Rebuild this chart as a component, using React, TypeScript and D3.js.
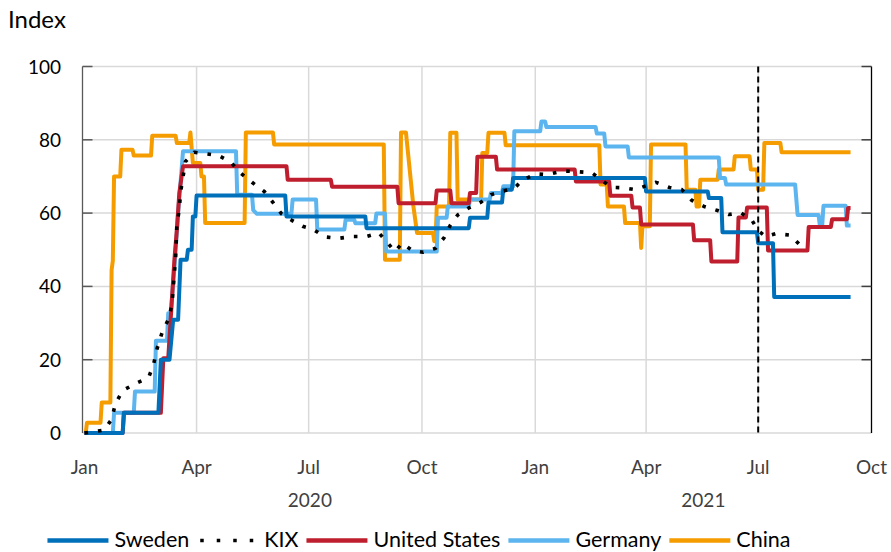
import React, { useMemo } from 'react'
import * as d3 from 'd3'

type Pt = [string, number]

// stringency index at each corner of the steps
const sweden: Pt[] = [
  ['2020-01-01', 0], ['2020-02-01', 0], ['2020-02-02', 5.5], ['2020-03-01', 5.5], ['2020-03-03', 20],
  ['2020-03-10', 20], ['2020-03-13', 30.9], ['2020-03-17', 30.9], ['2020-03-19', 47.3], ['2020-03-24', 47.3],
  ['2020-03-25', 50], ['2020-03-28', 50], ['2020-03-29', 59.1], ['2020-03-31', 59.1], ['2020-04-01', 64.8],
  ['2020-06-12', 64.8], ['2020-06-13', 59.1], ['2020-08-16', 59.1], ['2020-08-17', 55.9], ['2020-11-08', 55.9],
  ['2020-11-09', 58.7], ['2020-11-23', 58.7], ['2020-11-24', 62.9], ['2020-12-05', 62.9], ['2020-12-06', 66.4],
  ['2020-12-13', 66.4], ['2020-12-14', 69.6], ['2021-03-31', 69.6], ['2021-04-01', 65.9], ['2021-05-21', 65.9],
  ['2021-05-22', 64.1], ['2021-06-01', 64.1], ['2021-06-02', 54.8], ['2021-06-30', 54.8], ['2021-07-01', 51.8],
  ['2021-07-13', 51.8], ['2021-07-14', 37.1], ['2021-09-14', 37.1],
]

const kix: Pt[] = [
  ['2020-01-01', 0], ['2020-01-17', 0.8], ['2020-01-23', 3.7], ['2020-01-26', 7.9], ['2020-02-01', 11.6],
  ['2020-02-11', 13.4], ['2020-02-22', 15.1], ['2020-02-26', 18.6], ['2020-02-29', 23.1], ['2020-03-04', 27.4],
  ['2020-03-09', 30.9], ['2020-03-12', 35], ['2020-03-14', 43.8], ['2020-03-15', 48.2], ['2020-03-16', 56.8],
  ['2020-03-18', 61.1], ['2020-03-19', 65.7], ['2020-03-21', 69.9], ['2020-03-23', 74.1], ['2020-03-30', 76.6],
  ['2020-04-08', 76.2], ['2020-04-19', 75.7], ['2020-04-29', 73.9], ['2020-05-06', 71.1], ['2020-05-16', 68.4],
  ['2020-05-26', 65.9], ['2020-06-02', 62.9], ['2020-06-09', 59.8], ['2020-06-17', 58.1], ['2020-06-26', 56.4],
  ['2020-07-05', 55.5], ['2020-07-14', 53.5], ['2020-07-25', 53.1], ['2020-08-05', 53.6], ['2020-08-17', 53.6],
  ['2020-08-27', 54.6], ['2020-09-02', 52.3], ['2020-09-09', 49.5], ['2020-09-15', 51.8], ['2020-09-23', 49.8],
  ['2020-10-02', 49.3], ['2020-10-12', 50.4], ['2020-10-19', 53.3], ['2020-10-24', 56.7], ['2020-10-30', 59.5],
  ['2020-11-08', 61.4], ['2020-11-18', 63], ['2020-11-26', 65], ['2020-12-05', 65.9], ['2020-12-15', 66.8],
  ['2020-12-22', 69.1], ['2021-01-02', 70.7], ['2021-01-11', 70.5], ['2021-01-23', 71.5], ['2021-02-04', 71.3],
  ['2021-02-16', 71], ['2021-02-25', 68.7], ['2021-03-04', 67], ['2021-03-14', 66.9], ['2021-03-23', 66.4],
  ['2021-04-09', 68.4], ['2021-04-20', 67], ['2021-04-30', 66.4], ['2021-05-08', 63.5], ['2021-05-18', 61.8],
  ['2021-05-29', 60.7], ['2021-06-07', 59.6], ['2021-06-17', 60.1], ['2021-06-26', 58], ['2021-07-01', 55.2],
  ['2021-07-07', 53.6], ['2021-07-15', 54.4], ['2021-07-27', 54], ['2021-08-03', 51.6],
]

const unitedStates: Pt[] = [
  ['2020-01-01', 0], ['2020-02-01', 0], ['2020-02-02', 5.5], ['2020-03-03', 5.5], ['2020-03-05', 20.4],
  ['2020-03-09', 20.4], ['2020-03-14', 47.3], ['2020-03-16', 55.5], ['2020-03-18', 65.5], ['2020-03-21', 72.8],
  ['2020-06-13', 72.8], ['2020-06-14', 69.1], ['2020-07-19', 69.1], ['2020-07-20', 67.2], ['2020-09-11', 67.2],
  ['2020-09-12', 62.7], ['2020-10-12', 62.7], ['2020-10-13', 66.2], ['2020-10-24', 66.2], ['2020-10-25', 62.7],
  ['2020-11-08', 62.7], ['2020-11-09', 65.5], ['2020-11-14', 65.5], ['2020-11-15', 75.4], ['2020-11-30', 75.4],
  ['2020-12-01', 71.9], ['2021-02-02', 71.9], ['2021-02-03', 68.6], ['2021-03-02', 68.6], ['2021-03-03', 64.7],
  ['2021-03-20', 64.7], ['2021-03-21', 61.5], ['2021-03-27', 61.5], ['2021-03-28', 56.9], ['2021-05-09', 56.9],
  ['2021-05-10', 52.6], ['2021-05-23', 52.6], ['2021-05-24', 46.8], ['2021-06-14', 46.8], ['2021-06-15', 58.8],
  ['2021-06-21', 58.8], ['2021-06-22', 61.5], ['2021-07-08', 61.5], ['2021-07-09', 49.8], ['2021-08-10', 49.8],
  ['2021-08-11', 56.2], ['2021-08-29', 56.2], ['2021-08-30', 58.3], ['2021-09-11', 58.3], ['2021-09-12', 61.4],
  ['2021-09-14', 61.4],
]

const germany: Pt[] = [
  ['2020-01-01', 0], ['2020-01-24', 0], ['2020-01-25', 5.5], ['2020-02-10', 5.5], ['2020-02-11', 11.3],
  ['2020-02-27', 11.3], ['2020-02-28', 25.2], ['2020-03-08', 25.2], ['2020-03-09', 32.7], ['2020-03-11', 32.7],
  ['2020-03-14', 45], ['2020-03-17', 60], ['2020-03-21', 76.9], ['2020-05-03', 76.9], ['2020-05-04', 65],
  ['2020-05-16', 65], ['2020-05-17', 60.8], ['2020-05-20', 59.8], ['2020-06-17', 59.8], ['2020-06-18', 63.7],
  ['2020-07-07', 63.7], ['2020-07-08', 55.5], ['2020-07-30', 55.5], ['2020-07-31', 58.2], ['2020-08-07', 58.2],
  ['2020-08-08', 57.2], ['2020-08-24', 57.2], ['2020-08-25', 59.9], ['2020-09-01', 59.9], ['2020-09-02', 49.5],
  ['2020-10-13', 49.5], ['2020-10-14', 58.7], ['2020-10-21', 58.7], ['2020-10-22', 61.8], ['2020-11-08', 61.8],
  ['2020-11-09', 63.7], ['2020-11-25', 63.7], ['2020-11-26', 65.5], ['2020-12-05', 65.5], ['2020-12-06', 67.3],
  ['2020-12-14', 67.3], ['2020-12-15', 82.3], ['2021-01-05', 82.3], ['2021-01-06', 85], ['2021-01-09', 85],
  ['2021-01-10', 83.5], ['2021-02-19', 83.5], ['2021-02-20', 81.7], ['2021-02-26', 81.7], ['2021-02-27', 78.2],
  ['2021-03-17', 78.2], ['2021-03-18', 75.2], ['2021-05-30', 75.2], ['2021-05-31', 69.6], ['2021-06-04', 69.6],
  ['2021-06-05', 67.8], ['2021-07-31', 67.8], ['2021-08-02', 59.5], ['2021-08-19', 59.5], ['2021-08-20', 56.8],
  ['2021-08-22', 56.8], ['2021-08-23', 62], ['2021-09-10', 62], ['2021-09-11', 56.6], ['2021-09-14', 56.6],
]

const china: Pt[] = [
  ['2020-01-01', 0], ['2020-01-02', 0], ['2020-01-03', 2.8], ['2020-01-14', 2.8], ['2020-01-15', 8.3],
  ['2020-01-22', 8.3], ['2020-01-23', 44.5], ['2020-01-24', 47], ['2020-01-25', 70], ['2020-01-30', 70],
  ['2020-01-31', 77.3], ['2020-02-09', 77.3], ['2020-02-10', 75.7], ['2020-02-24', 75.7], ['2020-02-25', 81.1],
  ['2020-03-15', 81.1], ['2020-03-16', 79.1], ['2020-03-26', 79.1], ['2020-03-27', 82], ['2020-03-29', 73.7],
  ['2020-04-04', 73.7], ['2020-04-05', 70], ['2020-04-07', 70], ['2020-04-08', 57.3], ['2020-05-10', 57.3],
  ['2020-05-11', 82], ['2020-06-02', 82], ['2020-06-03', 78.7], ['2020-08-31', 78.7], ['2020-09-01', 47.3],
  ['2020-09-13', 47.3], ['2020-09-14', 82], ['2020-09-18', 82], ['2020-09-24', 62], ['2020-09-27', 54.6],
  ['2020-10-10', 54.6], ['2020-10-11', 52.3], ['2020-10-12', 52.3], ['2020-10-13', 61.8], ['2020-10-23', 61.8],
  ['2020-10-24', 81.9], ['2020-10-29', 81.9], ['2020-10-30', 63.7], ['2020-11-18', 63.7], ['2020-11-19', 76.4],
  ['2020-11-23', 76.4], ['2020-11-24', 81.9], ['2020-12-07', 81.9], ['2020-12-08', 78.5], ['2021-02-22', 78.5],
  ['2021-02-23', 67.8], ['2021-02-28', 67.8], ['2021-03-01', 61.8], ['2021-03-14', 61.8], ['2021-03-15', 57.3],
  ['2021-03-27', 57.3], ['2021-03-28', 50.5], ['2021-03-29', 56.4], ['2021-04-04', 56.4], ['2021-04-05', 78.7],
  ['2021-05-03', 78.7], ['2021-05-04', 66.4], ['2021-05-11', 66.4], ['2021-05-12', 61.8], ['2021-05-14', 61.8],
  ['2021-05-15', 69.1], ['2021-05-29', 69.1], ['2021-05-30', 71.9], ['2021-06-11', 71.9], ['2021-06-12', 75.5],
  ['2021-06-24', 75.5], ['2021-06-25', 71.9], ['2021-06-30', 71.9], ['2021-07-01', 66.4], ['2021-07-05', 66.4],
  ['2021-07-06', 79.1], ['2021-07-19', 79.1], ['2021-07-20', 76.6], ['2021-09-14', 76.6],
]

const seriesNames = ['Sweden', 'KIX', 'United States', 'Germany', 'China']
const seriesData = [sweden, kix, unitedStates, germany, china]
const seriesColors = ['#0070BA', '#000000', '#BE1E2D', '#5CB5EF', '#F59D00']
// bottom to top
const drawOrder = [4, 3, 2, 0, 1]

const yTicks = [0, 20, 40, 60, 80, 100]
const monthTicks = ['2020-01-01', '2020-04-01', '2020-07-01', '2020-10-01', '2021-01-01', '2021-04-01', '2021-07-01', '2021-10-01']
const monthLabels = ['Jan', 'Apr', 'Jul', 'Oct', 'Jan', 'Apr', 'Jul', 'Oct']
const yearLabels = ['2020', '2021']
const yearSpans = [['2020-01-01', '2021-01-01'], ['2021-01-01', '2021-10-01']]
const markerDate = '2021-07-01'

const W = 891
const H = 552
const FONT = 'Lato, "Open Sans", sans-serif'

const parse = d3.timeParse('%Y-%m-%d')

export default function App() {
  const x = d3.scaleTime()
    .domain([parse('2020-01-01')!, parse('2021-10-01')!])
    .range([84.5, 871.5])
  const y = d3.scaleLinear().domain([0, 100]).range([433, 66.5])
  const line = d3.line<Pt>().x(d => x(parse(d[0])!)).y(d => y(d[1]))

  const left = 82.5, right = 871.5

  // legend laid out from the measured text widths, centred like the original
  const legendSize = 21.5
  const legend = useMemo(() => {
    const ctx = document.createElement('canvas').getContext('2d')!
    ctx.font = `${legendSize}px ${FONT}`
    const sym = 61, gapT = 6, gapI = 8
    const widths = seriesNames.map(n => ctx.measureText(n).width)
    const total = widths.reduce((a, b) => a + b, 0) + seriesNames.length * (sym + gapT) + (seriesNames.length - 1) * gapI
    let cx = 419 - total / 2
    return seriesNames.map((n, i) => {
      const item = { name: n, x0: cx, tx: cx + sym + gapT }
      cx += sym + gapT + widths[i] + gapI
      return item
    })
  }, [])

  return (
    <svg width={W} height={H} style={{ position: 'absolute', left: 0, top: 0, background: '#fff' }} fontFamily={FONT}>
      {/* grid */}
      {yTicks.map(t => (
        <line key={'gy' + t} x1={left} x2={right} y1={y(t)} y2={y(t)} stroke="#D9D9D9" strokeWidth={1.5} />
      ))}
      {monthTicks.slice(1, -1).map(m => (
        <line key={'gx' + m} x1={x(parse(m)!)} x2={x(parse(m)!)} y1={y(100)} y2={y(0)} stroke="#D9D9D9" strokeWidth={1.5} />
      ))}

      {/* axes */}
      <line x1={left} x2={left} y1={y(100)} y2={y(0)} stroke="#595959" strokeWidth={1.3} />
      <line x1={right} x2={right} y1={y(100)} y2={y(0)} stroke="#000" strokeWidth={1.3} />
      {yTicks.slice(1).map(t => (
        <g key={'tk' + t}>
          <line x1={left} x2={left + 10} y1={y(t)} y2={y(t)} stroke="#595959" strokeWidth={1.5} />
          <line x1={right - 10} x2={right} y1={y(t)} y2={y(t)} stroke="#404040" strokeWidth={1.5} />
        </g>
      ))}

      {/* series */}
      {drawOrder.map(i => (
        <path key={seriesNames[i]} d={line(seriesData[i]) || ''} fill="none"
          stroke={seriesColors[i]}
          strokeWidth={i === 1 ? 3.6 : 4}
          strokeDasharray={i === 1 ? '3.6 10' : undefined}
          strokeLinejoin="round" />
      ))}

      {/* dashed marker */}
      <line x1={x(parse(markerDate)!)} x2={x(parse(markerDate)!)} y1={y(100)} y2={y(0)}
        stroke="#000" strokeWidth={2} strokeDasharray="6 4" />

      {/* y labels */}
      <text x={8} y={28} fontSize={24} fill="#000">Index</text>
      {yTicks.map(t => (
        <text key={'yl' + t} x={61} y={y(t) + 7} fontSize={19} textAnchor="end" fill="#000">{t}</text>
      ))}

      {/* x labels */}
      {monthTicks.map((m, i) => (
        <text key={'ml' + i} x={x(parse(m)!)} y={474} fontSize={19} textAnchor="middle" fill="#404040">{monthLabels[i]}</text>
      ))}
      {yearLabels.map((yl, i) => (
        <text key={yl} x={(x(parse(yearSpans[i][0])!) + x(parse(yearSpans[i][1])!)) / 2} y={507}
          fontSize={19} textAnchor="middle" fill="#404040">{yl}</text>
      ))}

      {/* legend */}
      {legend.map((it, i) => (
        <g key={'lg' + it.name}>
          <line x1={it.x0} x2={it.x0 + 61} y1={540.5} y2={540.5} stroke={seriesColors[i]}
            strokeWidth={i === 1 ? 3.5 : 4.3}
            strokeDasharray={i === 1 ? '3.5 13' : undefined} strokeDashoffset={i === 1 ? 13.5 : undefined} />
          <text x={it.tx} y={547} fontSize={legendSize} fill="#000">{it.name}</text>
        </g>
      ))}
    </svg>
  )
}
